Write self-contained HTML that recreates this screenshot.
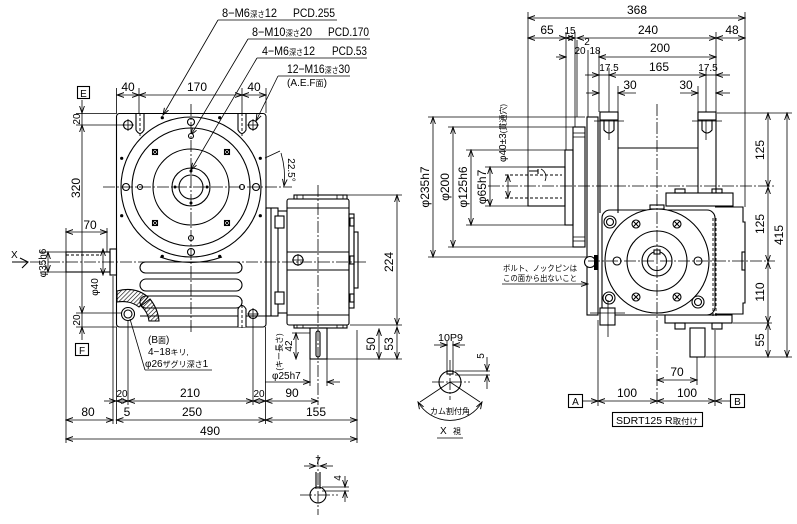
<!DOCTYPE html>
<html><head><meta charset="utf-8"><style>
html,body{margin:0;padding:0;background:#fff}
svg{display:block}
.s{stroke:#000;fill:none;stroke-width:1.1}
.w{stroke:#000;fill:#fff;stroke-width:1.1}
.th{stroke:#000;fill:none;stroke-width:.8}
.cl{stroke:#000;fill:none;stroke-width:.8;stroke-dasharray:12 2 2 2}
.dh{stroke:#000;fill:none;stroke-width:.9;stroke-dasharray:3 2}
.dm{stroke:#000;fill:none;stroke-width:.8;marker-start:url(#a);marker-end:url(#a)}
.de{stroke:#000;fill:none;stroke-width:.8;marker-end:url(#a)}
text{font-family:"Liberation Sans","Noto Sans CJK JP",sans-serif;font-size:12px;fill:#000}
.sm{font-size:10px}
.xs{font-size:8px}
</style></head><body>
<svg width="797" height="524" viewBox="0 0 797 524" xmlns="http://www.w3.org/2000/svg">
<defs>
<marker id="a" markerWidth="8" markerHeight="6" refX="7" refY="3" orient="auto-start-reverse" markerUnits="userSpaceOnUse"><path d="M0,0.6 L7,3 L0,5.4" fill="none" stroke="#000" stroke-width="0.9"/></marker>
<pattern id="h" width="3" height="3" patternUnits="userSpaceOnUse" patternTransform="rotate(45)"><line x1="0" y1="0" x2="0" y2="3" stroke="#000" stroke-width="1.2"/></pattern>
</defs>

<!-- ================= LEFT (FRONT) VIEW ================= -->
<text x="222" y="17" textLength="55" lengthAdjust="spacingAndGlyphs">8−M6<tspan class="xs">深さ</tspan>12</text>
<text x="293" y="17" textLength="42" lengthAdjust="spacingAndGlyphs">PCD.255</text>
<line class="th" x1="218" y1="20" x2="337" y2="20"/>
<line class="de" x1="218" y1="20" x2="163" y2="115"/>
<text x="252" y="36" textLength="60" lengthAdjust="spacingAndGlyphs">8−M10<tspan class="xs">深さ</tspan>20</text>
<text x="328" y="36" textLength="41" lengthAdjust="spacingAndGlyphs">PCD.170</text>
<line class="th" x1="248" y1="39" x2="370" y2="39"/>
<line class="de" x1="248" y1="39" x2="191" y2="135"/>
<text x="262" y="55" textLength="53" lengthAdjust="spacingAndGlyphs">4−M6<tspan class="xs">深さ</tspan>12</text>
<text x="332" y="55" textLength="35" lengthAdjust="spacingAndGlyphs">PCD.53</text>
<line class="th" x1="257" y1="58" x2="367" y2="58"/>
<line class="de" x1="257" y1="58" x2="191" y2="170"/>
<text x="287" y="73" textLength="63" lengthAdjust="spacingAndGlyphs">12−M16<tspan class="xs">深さ</tspan>30</text>
<text x="287" y="86" class="sm" textLength="40" lengthAdjust="spacingAndGlyphs">(A.E.F<tspan class="xs">面</tspan>)</text>
<line class="th" x1="278" y1="76" x2="350" y2="76"/>
<line class="de" x1="278" y1="76" x2="256" y2="121"/>

<line class="th" x1="116.5" y1="88" x2="116.5" y2="113"/>
<line class="th" x1="139" y1="88" x2="139" y2="113"/>
<line class="th" x1="242" y1="88" x2="242" y2="113"/>
<line class="th" x1="266" y1="88" x2="266" y2="113"/>
<line class="dm" x1="117" y1="95" x2="139" y2="95"/>
<line class="dm" x1="139" y1="95" x2="242" y2="95"/>
<line class="dm" x1="242" y1="95" x2="266" y2="95"/>
<text x="128" y="91" text-anchor="middle">40</text>
<text x="197" y="91" text-anchor="middle">170</text>
<text x="254" y="91" text-anchor="middle">40</text>

<rect class="s" x="77.5" y="86.5" width="12" height="12"/>
<text x="83.5" y="97" text-anchor="middle" class="sm">E</text>
<rect class="s" x="75.5" y="343.5" width="13" height="12"/>
<text x="82" y="354" text-anchor="middle" class="sm">F</text>

<line class="th" x1="76" y1="113.5" x2="117" y2="113.5"/>
<line class="th" x1="76" y1="125" x2="125" y2="125"/>
<line class="th" x1="76" y1="313" x2="123" y2="313"/>
<line class="th" x1="76" y1="327" x2="117" y2="327"/>
<line class="de" x1="82" y1="100" x2="82" y2="113"/>
<line class="dm" x1="82" y1="125" x2="82" y2="313"/>
<line class="th" x1="82" y1="113" x2="82" y2="125"/>
<line class="th" x1="82" y1="313" x2="82" y2="327"/>
<line class="de" x1="82" y1="340" x2="82" y2="327"/>
<text transform="translate(80,119) rotate(-90)" text-anchor="middle" class="sm">20</text>
<text transform="translate(80,188) rotate(-90)" text-anchor="middle">320</text>
<text transform="translate(80,320) rotate(-90)" text-anchor="middle" class="sm">20</text>

<rect class="s" x="116.5" y="113.5" width="149.5" height="213.5" rx="3"/>
<path class="s" d="M136,113.5 V130 Q140,137 144,130 V113.5"/>
<line class="dh" x1="140" y1="113" x2="140" y2="136"/>
<path class="s" d="M238,113.5 V130 Q242,137 246,130 V113.5"/>
<line class="dh" x1="242" y1="113" x2="242" y2="136"/>
<rect class="s" x="140" y="262" width="102" height="11" rx="5.5"/>
<rect class="s" x="140" y="279" width="102" height="12" rx="6"/>
<rect class="s" x="140" y="296" width="102" height="12" rx="6"/>
<line class="s" x1="140" y1="316" x2="266" y2="316"/>
<path class="s" d="M160,257 Q191,268 222,257"/>
<path class="w" d="M238,327 V309 Q242,302 246,309 V327"/>
<line class="dh" x1="242" y1="300" x2="242" y2="330"/>
<circle class="s" cx="191" cy="187" r="70"/>
<circle class="s" cx="191" cy="187" r="59"/>
<circle class="s" cx="191" cy="187" r="38"/>
<circle class="s" cx="191" cy="187" r="19"/>
<circle class="s" cx="191" cy="187" r="12"/>
<g class="w">
<circle cx="191" cy="122" r="3.5"/><circle cx="126" cy="187" r="3.5"/><circle cx="256" cy="187" r="3.5"/><circle cx="191" cy="252" r="3.5"/>
<circle cx="191" cy="136" r="2.5"/><circle cx="140" cy="187" r="2.5"/><circle cx="242" cy="187" r="2.5"/><circle cx="191" cy="238" r="2.5"/>
</g>
<g class="s">
<rect x="152.5" y="149.5" width="5" height="5"/><path d="M152.5,149.5 l5,5 M157.5,149.5 l-5,5"/>
<rect x="224.5" y="149.5" width="5" height="5"/><path d="M224.5,149.5 l5,5 M229.5,149.5 l-5,5"/>
<rect x="152.5" y="220.5" width="5" height="5"/><path d="M152.5,220.5 l5,5 M157.5,220.5 l-5,5"/>
<rect x="224.5" y="220.5" width="5" height="5"/><path d="M224.5,220.5 l5,5 M229.5,220.5 l-5,5"/>
</g>
<g fill="#000">
<circle cx="219.7" cy="117.7" r="1.6"/><circle cx="260.3" cy="158.3" r="1.6"/><circle cx="260.3" cy="215.7" r="1.6"/><circle cx="219.7" cy="256.3" r="1.6"/>
<circle cx="162.3" cy="256.3" r="1.6"/><circle cx="121.7" cy="215.7" r="1.6"/><circle cx="121.7" cy="158.3" r="1.6"/><circle cx="162.3" cy="117.7" r="1.6"/>
<circle cx="191" cy="171" r="1.5"/><circle cx="175" cy="187" r="1.5"/><circle cx="207" cy="187" r="1.5"/><circle cx="191" cy="203" r="1.5"/>
</g>
<circle class="s" cx="128" cy="125" r="4.5"/><circle class="s" cx="253" cy="125" r="4.5"/>
<circle class="s" cx="253" cy="314" r="4.5"/>
<path class="th" d="M122,125 h12 M128,119 v12 M247,125 h12 M253,119 v12 M247,314 h12 M253,308 v12"/>
<path d="M117,291 Q135,286 148,297 L139,307 Q130,300 117,302 Z" fill="url(#h)" stroke="#000" stroke-width="1.1"/>
<path d="M141,306 L150,299 Q158,309 159,321 L149,321 Q148,312 141,306 Z" fill="url(#h)" stroke="#000" stroke-width="1.1"/>
<circle class="w" cx="128" cy="314" r="6.5"/><circle class="s" cx="128" cy="314" r="4"/>
<line class="cl" x1="191" y1="104" x2="191" y2="332"/>
<line class="cl" x1="103" y1="187" x2="292" y2="187"/>
<line class="cl" x1="30" y1="262" x2="368" y2="262"/>

<line class="th" x1="265" y1="158" x2="280" y2="151"/>
<path class="th" d="M281,153 Q286,170 284,186" marker-end="url(#a)"/>
<text transform="translate(288,170) rotate(90)" text-anchor="middle" class="sm">22.5°</text>

<rect class="s" x="66" y="252" width="44" height="20"/>
<rect class="s" x="110" y="249" width="6.5" height="26"/>
<line class="dh" x1="66" y1="255" x2="100" y2="255"/>
<line class="th" x1="66" y1="228" x2="66" y2="252"/>
<line class="th" x1="107" y1="228" x2="107" y2="252"/>
<line class="dm" x1="66" y1="232" x2="107" y2="232"/>
<text x="90" y="229" text-anchor="middle">70</text>
<line class="th" x1="40" y1="252" x2="66" y2="252"/>
<line class="th" x1="40" y1="272" x2="66" y2="272"/>
<line class="dm" x1="48" y1="252" x2="48" y2="272"/>
<text transform="translate(46,263) rotate(-90)" text-anchor="middle" class="sm">φ35h6</text>
<line class="dm" x1="103" y1="249" x2="103" y2="275"/>
<text transform="translate(98,287) rotate(-90)" text-anchor="middle" class="sm">φ40</text>
<text x="11" y="258" class="sm">X</text>
<path class="s" d="M12,262 H28 M20,258 L28,262 L22,268"/>

<text x="148" y="343" class="sm">(B<tspan class="xs">面</tspan>)</text>
<text x="148" y="355" class="sm">4−18<tspan class="xs">キリ,</tspan></text>
<text x="145" y="367" class="sm">φ26<tspan class="xs">ザグリ深さ</tspan>1</text>
<line class="th" x1="145" y1="370" x2="212" y2="370"/>
<line class="th" x1="130" y1="319" x2="145" y2="370"/>

<rect class="s" x="266" y="208" width="12" height="108"/>
<line class="s" x1="271" y1="208" x2="271" y2="316"/>
<rect class="w" x="275" y="216" width="9" height="12"/>
<rect class="w" x="275" y="292" width="9" height="12"/>
<line class="s" x1="278" y1="211" x2="287" y2="211"/>
<line class="s" x1="278" y1="313" x2="287" y2="313"/>
<rect class="s" x="287" y="199" width="62" height="126" rx="2"/>
<rect class="s" x="294" y="195" width="53" height="4"/>
<path class="th" d="M297,195 v4 M303,195 v4 M337,195 v4 M343,195 v4"/>
<rect class="s" x="294" y="325" width="53" height="3"/>
<path class="th" d="M297,325 v3 M303,325 v3 M337,325 v3 M343,325 v3"/>
<line class="s" x1="287" y1="208" x2="349" y2="208"/>
<line class="s" x1="287" y1="252" x2="349" y2="252"/>
<line class="s" x1="287" y1="270" x2="349" y2="270"/>
<line class="s" x1="287" y1="315" x2="349" y2="315"/>
<circle class="s" cx="298" cy="260" r="5"/>
<path class="th" d="M292,260 h12 M298,254 v12"/>
<rect class="s" x="349" y="214" width="5" height="94"/>
<rect class="s" x="354" y="232" width="4" height="56"/>
<rect class="s" x="350" y="218" width="4" height="8"/>
<rect class="s" x="350" y="256" width="4" height="8"/>
<rect class="s" x="350" y="294" width="4" height="8"/>
<line class="cl" x1="318" y1="185" x2="318" y2="405"/>
<rect class="s" x="310" y="328" width="17" height="31"/>
<rect class="s" x="316" y="331" width="4" height="26" rx="2"/>
<line class="th" x1="344" y1="195" x2="402" y2="195"/>
<line class="th" x1="350" y1="325" x2="402" y2="325"/>
<line class="th" x1="327" y1="359" x2="402" y2="359"/>
<line class="dm" x1="397" y1="195" x2="397" y2="325"/>
<text transform="translate(393,262) rotate(-90)" text-anchor="middle">224</text>
<line class="dm" x1="379" y1="329" x2="379" y2="359"/>
<text transform="translate(375,344) rotate(-90)" text-anchor="middle">50</text>
<line class="dm" x1="397" y1="327" x2="397" y2="359"/>
<text transform="translate(393,344) rotate(-90)" text-anchor="middle">53</text>
<line class="th" x1="292" y1="333" x2="310" y2="333"/>
<line class="dm" x1="296" y1="333" x2="296" y2="359"/>
<text transform="translate(292,346) rotate(-90)" text-anchor="middle" class="sm">42</text>
<text transform="translate(282,352) rotate(-90)" text-anchor="middle" class="xs">(キー長さ)</text>
<text x="272" y="379" class="sm">φ25h7</text>
<line class="th" x1="265" y1="382" x2="300" y2="382"/>
<line class="de" x1="300" y1="382" x2="310" y2="382"/>
<line class="de" x1="340" y1="382" x2="327" y2="382"/>
<line class="th" x1="310" y1="359" x2="310" y2="386"/>
<line class="th" x1="327" y1="359" x2="327" y2="386"/>

<line class="th" x1="66" y1="272" x2="66" y2="443"/>
<line class="th" x1="113" y1="276" x2="113" y2="424"/>
<line class="th" x1="116.5" y1="327" x2="116.5" y2="424"/>
<line class="th" x1="128" y1="320" x2="128" y2="405"/>
<line class="th" x1="253" y1="320" x2="253" y2="405"/>
<line class="th" x1="265.5" y1="327" x2="265.5" y2="424"/>
<line class="th" x1="357" y1="330" x2="357" y2="443"/>
<line class="de" x1="104" y1="401" x2="116" y2="401"/>
<line class="dm" x1="116.5" y1="401" x2="128" y2="401"/>
<line class="dm" x1="128" y1="401" x2="253" y2="401"/>
<line class="dm" x1="253" y1="401" x2="265.5" y2="401"/>
<line class="dm" x1="265.5" y1="401" x2="318" y2="401"/>
<text x="122" y="397" text-anchor="middle" class="sm">20</text>
<text x="190" y="397" text-anchor="middle">210</text>
<text x="259" y="397" text-anchor="middle" class="sm">20</text>
<text x="292" y="397" text-anchor="middle">90</text>
<line class="dm" x1="66" y1="420" x2="113" y2="420"/>
<line class="dm" x1="116.5" y1="420" x2="265.5" y2="420"/>
<line class="dm" x1="265.5" y1="420" x2="357" y2="420"/>
<text x="88" y="416" text-anchor="middle">80</text>
<text x="127" y="416" text-anchor="middle">5</text>
<text x="192" y="416" text-anchor="middle">250</text>
<text x="316" y="416" text-anchor="middle">155</text>
<line class="dm" x1="66" y1="439" x2="357" y2="439"/>
<text x="210" y="435" text-anchor="middle">490</text>

<circle class="s" cx="318" cy="495" r="8"/>
<line class="cl" x1="318" y1="455" x2="318" y2="515"/>
<line class="cl" x1="300" y1="495" x2="338" y2="495"/>
<path class="s" d="M316,472 V489 M320,472 V489"/>
<line class="de" x1="304" y1="466" x2="316" y2="466"/>
<line class="de" x1="333" y1="466" x2="320" y2="466"/>
<text x="318" y="464" text-anchor="middle" class="sm">7</text>
<line class="th" x1="322" y1="487" x2="349" y2="487"/>
<line class="th" x1="322" y1="491" x2="349" y2="491"/>
<line class="de" x1="345" y1="476" x2="345" y2="487"/>
<line class="de" x1="345" y1="502" x2="345" y2="491"/>
<text transform="translate(341,478) rotate(-90)" text-anchor="middle" class="sm">4</text>

<!-- ================= X VIEW ================= -->
<text x="438" y="341" class="sm" textLength="25" lengthAdjust="spacingAndGlyphs">10P9</text>
<line class="de" x1="434" y1="345" x2="447" y2="345"/>
<line class="de" x1="465" y1="345" x2="453" y2="345"/>
<line class="th" x1="447" y1="341" x2="447" y2="372"/>
<line class="th" x1="453" y1="341" x2="453" y2="372"/>
<circle class="s" cx="450" cy="382" r="11"/>
<rect class="s" x="447" y="371" width="6" height="3"/>
<line class="cl" x1="450" y1="360" x2="450" y2="400"/>
<line class="cl" x1="432" y1="382" x2="470" y2="382"/>
<line class="th" x1="455" y1="371" x2="490" y2="371"/>
<line class="th" x1="455" y1="375" x2="490" y2="375"/>
<line class="de" x1="487" y1="357" x2="487" y2="371"/>
<line class="de" x1="487" y1="389" x2="487" y2="375"/>
<text transform="translate(484,356) rotate(-90)" text-anchor="middle" class="sm">5</text>
<line class="th" x1="450" y1="382" x2="420" y2="402"/>
<line class="th" x1="450" y1="382" x2="480" y2="402"/>
<path class="dm" d="M418,402 A37,37 0 0 0 482,402"/>
<text x="450" y="414" text-anchor="middle" class="xs">カム割付角</text>
<text x="440" y="434" class="sm">X</text>
<text x="453" y="434" class="xs">視</text>
<line class="th" x1="437" y1="438" x2="463" y2="438"/>

<!-- ================= RIGHT (SIDE) VIEW ================= -->
<line class="th" x1="528" y1="12" x2="528" y2="167"/>
<line class="th" x1="745" y1="12" x2="745" y2="207"/>
<line class="th" x1="566" y1="32" x2="566" y2="150"/>
<line class="th" x1="575" y1="32" x2="575" y2="127"/>
<line class="th" x1="577" y1="40" x2="577" y2="117"/>
<line class="th" x1="588" y1="50" x2="588" y2="117"/>
<line class="th" x1="599" y1="50" x2="599" y2="112"/>
<line class="th" x1="609" y1="68" x2="609" y2="140"/>
<line class="th" x1="618" y1="86" x2="618" y2="112"/>
<line class="th" x1="698" y1="86" x2="698" y2="112"/>
<line class="th" x1="706" y1="68" x2="706" y2="140"/>
<line class="th" x1="716" y1="32" x2="716" y2="112"/>
<line class="dm" x1="528" y1="18" x2="745" y2="18"/>
<text x="637" y="14" text-anchor="middle">368</text>
<line class="dm" x1="528" y1="38" x2="566" y2="38"/>
<text x="547" y="34" text-anchor="middle">65</text>
<line class="dm" x1="566" y1="38" x2="575" y2="38"/>
<text x="570" y="34" text-anchor="middle" class="sm">15</text>
<line class="dm" x1="577" y1="38" x2="716" y2="38"/>
<text x="648" y="34" text-anchor="middle">240</text>
<line class="dm" x1="716" y1="38" x2="745" y2="38"/>
<text x="732" y="34" text-anchor="middle">48</text>
<text x="587" y="45" text-anchor="middle" class="sm">2</text>
<line class="de" x1="556" y1="57" x2="566" y2="57"/>
<text x="580" y="54" text-anchor="middle" class="sm">20</text>
<text x="595" y="54" text-anchor="middle" class="sm">18</text>
<line class="dm" x1="599" y1="57" x2="716" y2="57"/>
<text x="660" y="52" text-anchor="middle">200</text>
<line class="de" x1="585" y1="75" x2="599" y2="75"/>
<line class="dm" x1="609" y1="75" x2="706" y2="75"/>
<line class="th" x1="599" y1="75" x2="609" y2="75"/>
<line class="th" x1="706" y1="75" x2="716" y2="75"/>
<line class="de" x1="730" y1="75" x2="716" y2="75"/>
<text x="609" y="71" text-anchor="middle" class="sm">17.5</text>
<text x="659" y="71" text-anchor="middle">165</text>
<text x="708" y="71" text-anchor="middle" class="sm">17.5</text>
<line class="de" x1="586" y1="93" x2="599" y2="93"/>
<line class="de" x1="636" y1="93" x2="618" y2="93"/>
<line class="de" x1="680" y1="93" x2="698" y2="93"/>
<line class="de" x1="730" y1="93" x2="716" y2="93"/>
<text x="630" y="89" text-anchor="middle">30</text>
<text x="686" y="89" text-anchor="middle">30</text>

<line class="th" x1="428" y1="117" x2="585" y2="117"/>
<line class="th" x1="448" y1="127" x2="573" y2="127"/>
<line class="th" x1="466" y1="150" x2="565" y2="150"/>
<line class="th" x1="485" y1="167" x2="528" y2="167"/>
<line class="th" x1="485" y1="206" x2="528" y2="206"/>
<line class="th" x1="466" y1="225" x2="565" y2="225"/>
<line class="th" x1="448" y1="247" x2="573" y2="247"/>
<line class="th" x1="428" y1="257" x2="590" y2="257"/>
<line class="dm" x1="433" y1="117" x2="433" y2="257"/>
<line class="dm" x1="453" y1="127" x2="453" y2="247"/>
<line class="dm" x1="471" y1="150" x2="471" y2="225"/>
<line class="dm" x1="490" y1="167" x2="490" y2="206"/>
<line class="dm" x1="508" y1="175" x2="508" y2="198"/>
<text transform="translate(429,187) rotate(-90)" text-anchor="middle">φ235h7</text>
<text transform="translate(449,187) rotate(-90)" text-anchor="middle">φ200</text>
<text transform="translate(467,187) rotate(-90)" text-anchor="middle">φ125h6</text>
<text transform="translate(486,187) rotate(-90)" text-anchor="middle">φ65h7</text>
<text transform="translate(506,133) rotate(-90)" text-anchor="middle" class="sm">φ40±3<tspan class="xs">(貫通穴)</tspan></text>

<rect class="s" x="528" y="167" width="37" height="39"/>
<line class="dh" x1="505" y1="175" x2="562" y2="175"/>
<line class="dh" x1="505" y1="198" x2="562" y2="198"/>
<path class="s" d="M529,171 H538 M538,169 V174"/>
<path class="th" d="M541,169 A9,9 0 0 1 545,181"/>
<rect class="s" x="565" y="150" width="8" height="75"/>
<rect class="s" x="573" y="127" width="12" height="120"/>
<path class="th" d="M573,133 h12 M573,137 h12 M573,237 h12 M573,241 h12"/>
<rect class="s" x="587" y="117" width="11" height="198"/>
<line class="cl" x1="488" y1="186" x2="775" y2="186"/>

<line class="s" x1="600" y1="112" x2="600" y2="213"/>
<line class="s" x1="618" y1="112" x2="618" y2="213"/>
<line class="s" x1="698" y1="112" x2="698" y2="193"/>
<line class="s" x1="716" y1="112" x2="716" y2="193"/>
<line class="s" x1="618" y1="148" x2="698" y2="148"/>
<rect class="w" x="600" y="112" width="18" height="8"/>
<rect class="w" x="698" y="112" width="18" height="8"/>
<path class="s" d="M604,120 V130 Q609,136 614,130 V120 M702,120 V130 Q707,136 712,130 V120"/>
<path class="th" d="M594,121 h30 M692,121 h30"/>

<rect class="s" x="666" y="193" width="67" height="13"/>
<rect class="s" x="675" y="189" width="10" height="4"/>
<rect class="s" x="712" y="189" width="10" height="4"/>
<rect class="s" x="602" y="210" width="113" height="105" rx="8"/>
<path class="s" d="M715,207 H743 V222 H745 V303 H743 V314 H715"/>
<rect class="s" x="742" y="252" width="3" height="18"/>
<line class="dh" x1="713" y1="218" x2="713" y2="318"/>
<line class="dh" x1="716" y1="218" x2="716" y2="318"/>
<circle class="w" cx="657" cy="261" r="52"/>
<circle class="s" cx="657" cy="261" r="30"/>
<circle class="s" cx="657" cy="261" r="15"/>
<circle class="s" cx="657" cy="261" r="9.5"/>
<rect class="w" x="654" y="250" width="6" height="4"/>
<rect class="s" x="650" y="205" width="14" height="4"/>
<g class="s">
<circle cx="636" cy="224" r="4"/><circle cx="677" cy="224" r="4"/><circle cx="617" cy="261" r="4"/><circle cx="698" cy="261" r="4"/><circle cx="636" cy="297" r="4"/><circle cx="677" cy="297" r="4"/>
<path d="M633,221 l6,6 M639,221 l-6,6 M674,221 l6,6 M680,221 l-6,6 M633,294 l6,6 M639,294 l-6,6 M674,294 l6,6 M680,294 l-6,6"/>
</g>
<circle class="w" cx="610" cy="222" r="6"/><circle class="s" cx="610" cy="222" r="3.5"/>
<circle class="w" cx="609" cy="298" r="6"/><circle class="s" cx="609" cy="298" r="3.5"/>
<circle class="w" cx="698" cy="302" r="6"/><circle class="s" cx="698" cy="302" r="3.5"/>
<circle class="w" cx="590" cy="262" r="5.5"/>
<rect x="594" y="255" width="4" height="15" fill="#000"/>
<rect class="s" x="665" y="315" width="67" height="8"/>
<rect class="s" x="675" y="323" width="10" height="6"/>
<rect class="s" x="712" y="323" width="10" height="6"/>
<rect class="s" x="690" y="328" width="15" height="29"/>
<rect class="w" x="600" y="308" width="15" height="17"/>
<line class="th" x1="608" y1="300" x2="608" y2="337"/>
<line class="th" x1="590" y1="313" x2="625" y2="313"/>
<line class="cl" x1="657" y1="104" x2="657" y2="405"/>
<line class="cl" x1="588" y1="261" x2="775" y2="261"/>

<text x="503" y="271" class="xs" textLength="74" lengthAdjust="spacingAndGlyphs">ボルト、ノックピンは</text>
<text x="503" y="281" class="xs" textLength="74" lengthAdjust="spacingAndGlyphs">この面から出ないこと</text>
<line class="th" x1="502" y1="284" x2="580" y2="284"/>
<line class="de" x1="580" y1="284" x2="588" y2="284"/>

<line class="th" x1="717" y1="113" x2="792" y2="113"/>
<line class="th" x1="733" y1="323" x2="772" y2="323"/>
<line class="th" x1="706" y1="357" x2="792" y2="357"/>
<line class="dm" x1="768" y1="113" x2="768" y2="187"/>
<line class="dm" x1="768" y1="187" x2="768" y2="262"/>
<line class="dm" x1="768" y1="262" x2="768" y2="323"/>
<line class="dm" x1="768" y1="323" x2="768" y2="357"/>
<line class="dm" x1="787" y1="113" x2="787" y2="357"/>
<text transform="translate(764,150) rotate(-90)" text-anchor="middle">125</text>
<text transform="translate(764,224) rotate(-90)" text-anchor="middle">125</text>
<text transform="translate(764,292) rotate(-90)" text-anchor="middle">110</text>
<text transform="translate(764,340) rotate(-90)" text-anchor="middle">55</text>
<text transform="translate(783,235) rotate(-90)" text-anchor="middle">415</text>

<line class="th" x1="598" y1="320" x2="598" y2="406"/>
<line class="th" x1="715" y1="330" x2="715" y2="406"/>
<line class="th" x1="697" y1="357" x2="697" y2="385"/>
<line class="dm" x1="657" y1="380" x2="697" y2="380"/>
<text x="677" y="376" text-anchor="middle">70</text>
<rect class="s" x="568.5" y="394.5" width="14" height="13"/>
<text x="575.5" y="405" text-anchor="middle" class="sm">A</text>
<line class="de" x1="583" y1="401" x2="598" y2="401"/>
<line class="dm" x1="598" y1="401" x2="657" y2="401"/>
<line class="dm" x1="657" y1="401" x2="715" y2="401"/>
<line class="de" x1="730" y1="401" x2="715" y2="401"/>
<text x="627" y="397" text-anchor="middle">100</text>
<text x="687" y="397" text-anchor="middle">100</text>
<rect class="s" x="730.5" y="394.5" width="14" height="13"/>
<text x="737.5" y="405" text-anchor="middle" class="sm">B</text>
<rect class="s" x="612.5" y="412.5" width="90" height="14"/>
<text x="616" y="424" class="sm" textLength="82" lengthAdjust="spacingAndGlyphs">SDRT125  R<tspan class="xs">取付け</tspan></text>
</svg>
</body></html>
